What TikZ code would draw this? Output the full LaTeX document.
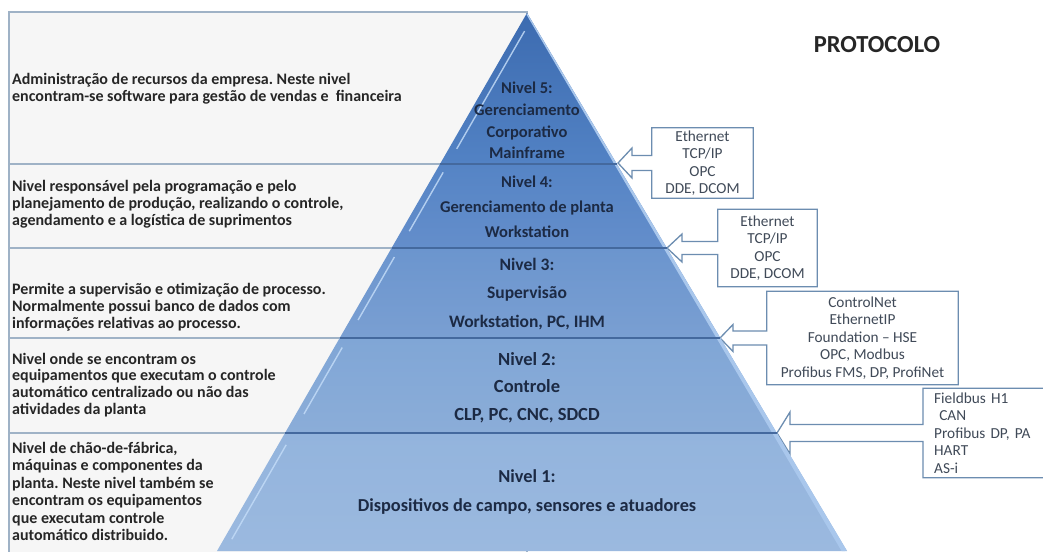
\documentclass[tikz,border=0pt]{standalone}
\usepackage{fontspec}
\setmainfont{Carlito}
\usetikzlibrary{calc}
\pgfdeclarelayer{bg}
\pgfsetlayers{bg,main}
\frenchspacing
\definecolor{boxline}{HTML}{9FB2C6}
\definecolor{boxfill}{HTML}{F6F6F6}
\definecolor{sepline}{HTML}{44699E}
\definecolor{navy}{HTML}{1C2A44}
\definecolor{ptext}{HTML}{404A58}
\definecolor{pline}{HTML}{6C8DB0}
\definecolor{hilite}{HTML}{C2DBF7}
\definecolor{rbevel}{HTML}{A9C7EC}
\definecolor{c5t}{HTML}{3C6BB0}\definecolor{c5b}{HTML}{5282C4}
\definecolor{c4t}{HTML}{5584C5}\definecolor{c4b}{HTML}{648ECB}
\definecolor{c3t}{HTML}{6B95CE}\definecolor{c3b}{HTML}{7A9FD2}
\definecolor{c2t}{HTML}{80A6D6}\definecolor{c2b}{HTML}{8BADD8}
\definecolor{c1t}{HTML}{93B4DD}\definecolor{c1b}{HTML}{9BB9DF}
\begin{document}
\begin{tikzpicture}[x=1pt,y=-1pt,
  lbox/.style={draw=boxline,line width=1.4pt,fill=boxfill},
  ltext/.style={anchor=west,align=left,text=black!85,inner sep=0pt,font=\bfseries\fontsize{16}{16.8}\selectfont},
  lvtext/.style={align=center,text=navy,inner sep=0pt},
  lvsep/.style={draw=sepline,line width=1.6pt},
  ptxt/.style={align=center,text=ptext,inner sep=0pt,font=\fontsize{15.3}{17.5}\selectfont},
  callout/.style={draw=pline,line width=1.3pt,fill=white,line join=miter},
  bevel/.style={draw=hilite,line width=1.4pt,opacity=.85}]
\useasboundingbox (0,0) rectangle (1043,551);
\begin{pgfonlayer}{bg}
\fill[white] (0,0) rectangle (1043,551);
\end{pgfonlayer}
% left description boxes
\draw[lbox] (9,12) rectangle (527,164);
\draw[lbox] (9,164) rectangle (527,248);
\draw[lbox] (9,248) rectangle (527,338);
\draw[lbox] (9,338) rectangle (527,433);
\draw[lbox] (9,433) rectangle (527,565);
% pyramid levels
\coordinate (apex) at (527,13);
\coordinate (l5) at (440,164);   \coordinate (r5) at (616.8,164);
\coordinate (l4) at (391.6,248); \coordinate (r4) at (666.8,248);
\coordinate (l3) at (339.7,338); \coordinate (r3) at (720.3,338);
\coordinate (l2) at (285,433);   \coordinate (r2) at (776.8,433);
\coordinate (l1) at (217,551);   \coordinate (r1) at (847,551);
\shade[top color=c5t, bottom color=c5b] (apex) -- (r5) -- (l5) -- cycle;
\shade[top color=c4t, bottom color=c4b] (l5) -- (r5) -- (r4) -- (l4) -- cycle;
\shade[top color=c3t, bottom color=c3b] (l4) -- (r4) -- (r3) -- (l3) -- cycle;
\shade[top color=c2t, bottom color=c2b] (l3) -- (r3) -- (r2) -- (l2) -- cycle;
\shade[top color=c1t, bottom color=c1b] (l2) -- (r2) -- (r1) -- (l1) -- cycle;
% bevel highlights
\begin{scope}
\clip (apex) -- (r1) -- (l1) -- cycle;
\draw[draw=rbevel,line width=6pt] ($(apex)+(2,0)$) -- ($(r1)+(-2,0)$);
\end{scope}
\draw[bevel] ($(apex)!0.12!(l5)+(8,0)$) -- ($(apex)!0.9!(l5)+(8,0)$);
\draw[bevel] ($(l5)!0.1!(l4)+(8,0)$) -- ($(l5)!0.8!(l4)+(8,0)$);
\draw[bevel] ($(l4)!0.1!(l3)+(8,0)$) -- ($(l4)!0.8!(l3)+(8,0)$);
\draw[bevel] ($(l3)!0.1!(l2)+(8,0)$) -- ($(l3)!0.8!(l2)+(8,0)$);
\draw[bevel] ($(l2)!0.1!(l1)+(8,0)$) -- ($(l2)!0.9!(l1)+(8,0)$);
% separators
\draw[lvsep] (l5) -- (r5);
\draw[lvsep] (l4) -- (r4);
\draw[lvsep] (l3) -- (r3);
\draw[lvsep] (l2) -- (r2);
% level texts
\node[lvtext,font=\bfseries\fontsize{16.5}{21.7}\selectfont] (n5) at (527,120.5) {Nivel 5:\\Gerenciamento\\Corporativo\\Mainframe};
\node[lvtext,font=\bfseries\fontsize{16.5}{25}\selectfont] (n4) at (527,207) {Nivel 4:\\Gerenciamento de planta\\Workstation};
\node[lvtext,font=\bfseries\fontsize{17.5}{28.5}\selectfont] (n3) at (527,294) {Nivel 3:\\Supervisão\\Workstation, PC, IHM};
\node[lvtext,font=\bfseries\fontsize{18.5}{27.5}\selectfont] (n2) at (527,387.5) {Nivel 2:\\Controle\\CLP, PC, CNC, SDCD};
\node[lvtext,font=\bfseries\fontsize{18.3}{29}\selectfont] (n1) at (527,492.5) {Nivel 1:\\Dispositivos de campo, sensores e atuadores};
% left texts
\node[ltext] (d5) at (12,88.5) {Administração de recursos da empresa. Neste nivel\\encontram-se software para gestão de vendas e \ financeira};
\node[ltext] (d4) at (12,204) {Nivel responsável pela programação e pelo\\planejamento de produção, realizando o controle,\\agendamento e a logística de suprimentos};
\node[ltext] (d3) at (12,307) {Permite a supervisão e otimização de processo.\\Normalmente possui banco de dados com\\informações relativas ao processo.};
\node[ltext] (d2) at (12,385) {Nivel onde se encontram os\\equipamentos que executam o controle\\automático centralizado ou não das\\atividades da planta};
\node[ltext,font=\bfseries\fontsize{16}{17.4}\selectfont] (d1) at (12,491.5) {Nivel de chão-de-fábrica,\\máquinas e componentes da\\planta. Neste nivel também se\\encontram os equipamentos\\que executam controle\\automático distribuido.};
% title
\node[font=\bfseries\fontsize{24.5}{26}\selectfont,text=black!85] (title) at (877,45) {PROTOCOLO};
% protocol callouts
\coordinate (tA) at (618,163);
\coordinate (tB) at (667,248);
\coordinate (tC) at (720,338);
\coordinate (tD) at (777,433);
\node[ptxt,minimum width=101pt,minimum height=70pt] (pA) at (702.5,163) {Ethernet\\TCP/IP\\OPC\\DDE, DCOM};
\node[ptxt,minimum width=99pt,minimum height=77pt] (pB) at (767.5,248) {Ethernet\\TCP/IP\\OPC\\DDE, DCOM};
\node[ptxt,minimum width=191pt,minimum height=93pt] (pC) at (862.5,338) {ControlNet\\EthernetIP\\Foundation -- HSE\\OPC, Modbus\\Profibus FMS, DP, ProfiNet};
\node[ptxt,align=left,anchor=west,minimum height=89pt,text width=110pt,inner xsep=11pt] (pD) at (923,433) {Fieldbus H1\\\ CAN\\Profibus DP, PA\\HART\\AS-i};
\begin{pgfonlayer}{bg}
\foreach \b/\t/\hl/\sh/\hh in {pA/tA/14/7.5/15, pB/tB/15/6.5/14, pC/tC/13/7/13.5, pD/tD/13/8.5/21}{
  \draw[callout] (\b.north west) -- (\b.north east) -- (\b.south east) -- (\b.south west)
    -- ($(\b.west)+(0,\sh)$) -- ($(\t)+(\hl,\sh)$) -- ($(\t)+(\hl,\hh)$) -- (\t)
    -- ($(\t)+(\hl,-\hh)$) -- ($(\t)+(\hl,-\sh)$) -- ($(\b.west)+(0,-\sh)$) -- cycle;
}
\end{pgfonlayer}
\end{tikzpicture}
\end{document}
